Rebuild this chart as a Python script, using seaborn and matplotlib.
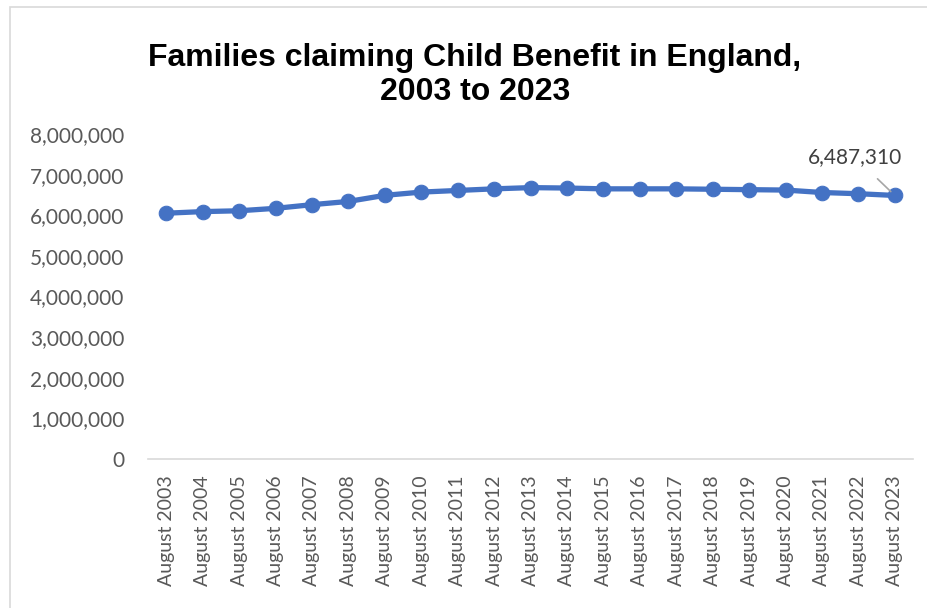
import pandas as pd
import seaborn as sns
from matplotlib import pyplot as plt
from matplotlib.patches import Rectangle
from matplotlib.ticker import FuncFormatter

years = list(range(2003, 2024))
labels = ['August {}'.format(y) for y in years]
families = [6050000, 6090000, 6110000, 6170000, 6260000, 6340000, 6490000,
            6570000, 6610000, 6650000, 6680000, 6670000, 6650000, 6650000,
            6650000, 6640000, 6630000, 6620000, 6560000, 6530000, 6487310]

df = pd.DataFrame({'period': labels, 'families': families})

sns.set_style('white')
plt.rcParams['font.family'] = ['Lato', 'DejaVu Sans']

fig = plt.figure(figsize=(9.28, 6.08), dpi=100)
ax = fig.add_axes([148 / 928, 1 - 459 / 608, (913 - 148) / 928, (459 - 134) / 608])

sns.lineplot(data=df, x='period', y='families', ax=ax, color='#4472C4',
             linewidth=3.8, marker='o', markersize=10.5,
             markeredgecolor='#4472C4', sort=False)

ax.set_xlim(-0.5, len(labels) - 0.5)
ax.set_ylim(0, 8000000)
ax.set_yticks(range(0, 8000001, 1000000))
ax.yaxis.set_major_formatter(FuncFormatter(lambda v, p: '{:,.0f}'.format(v)))
ax.tick_params(axis='x', rotation=90, labelsize=14, colors='#595959', length=0, pad=12)
ax.tick_params(axis='y', labelsize=15, colors='#595959', length=0, pad=17)
ax.set_xlabel('')
ax.set_ylabel('')
for side in ['top', 'right', 'left']:
    ax.spines[side].set_visible(False)
ax.spines['bottom'].set_color('#D9D9D9')
ax.spines['bottom'].set_linewidth(1.2)

last = len(labels) - 1
ax.annotate('{:,}'.format(families[-1]), xy=(last, families[-1]),
            xytext=(last - 1.1, families[-1] + 950000),
            ha='center', va='center', fontsize=15, color='#404040',
            arrowprops=dict(arrowstyle='-', color='#A6A6A6', lw=1.2,
                            shrinkA=9, shrinkB=4))

fig.text(475 / 928, 1 - 75 / 608,
         'Families claiming Child Benefit in England,\n2003 to 2023',
         ha='center', va='center', fontsize=23, fontweight='bold',
         family='Liberation Sans', color='black', linespacing=1.2)

fig.patches.append(Rectangle((10 / 928, -0.1), 1.2, 1 - 7 / 608 + 0.1,
                             transform=fig.transFigure, fill=False,
                             edgecolor='#D9D9D9', linewidth=1.2))

fig.savefig('out.png', dpi=100)
plt.close()
